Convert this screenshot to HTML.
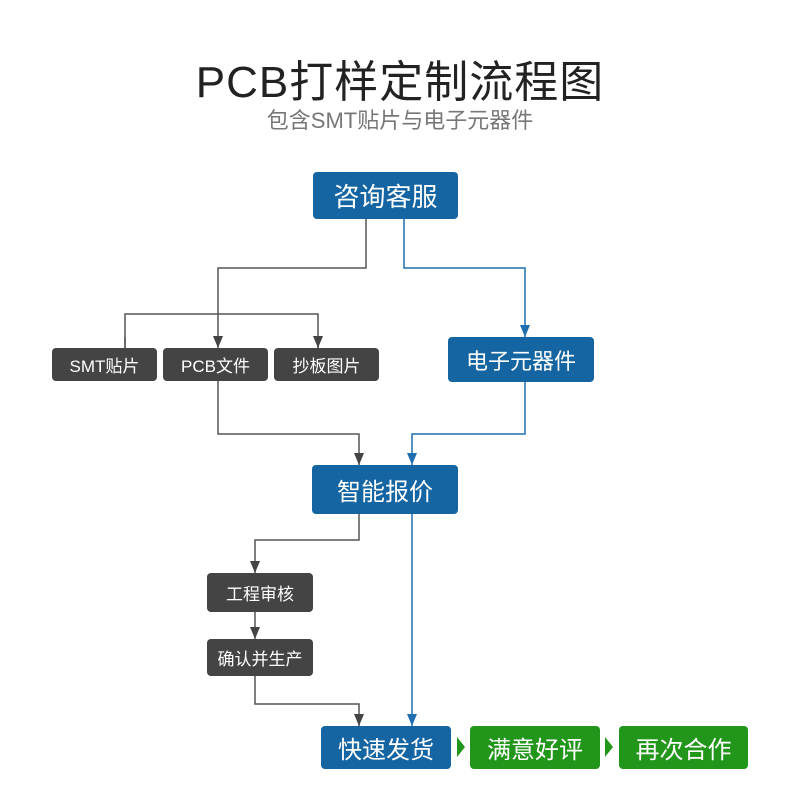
<!DOCTYPE html>
<html><head><meta charset="utf-8"><style>
body{margin:0;width:800px;height:800px;background:#fff;position:relative;overflow:hidden;font-family:"Liberation Sans","Noto Sans CJK SC",sans-serif}
.t{position:absolute;left:0;width:800px;text-align:center;white-space:nowrap}
.b{position:absolute;color:#fff;display:flex;align-items:center;justify-content:center;border-radius:4px;white-space:nowrap}
.bl{background:#1565a3}.g{background:#444}.gr{background:#22961a}
</style></head><body>
<div class="t" style="top:46px;font-size:44px;color:#222;letter-spacing:1px">PCB打样定制流程图</div>
<div class="t" style="top:103px;font-size:22px;color:#777">包含SMT贴片与电子元器件</div>
<svg width="800" height="800" style="position:absolute;left:0;top:0">
<defs>
<marker id="ag" markerWidth="12" markerHeight="10" refX="12" refY="5" orient="auto" markerUnits="userSpaceOnUse"><path d="M0,0L12,5L0,10Z" fill="#444"/></marker>
<marker id="ab" markerWidth="12" markerHeight="10" refX="12" refY="5" orient="auto" markerUnits="userSpaceOnUse"><path d="M0,0L12,5L0,10Z" fill="#1f6fb0"/></marker>
</defs>
<g fill="none" stroke-width="1.5">
<path d="M366 219V268H218V348" stroke="#555" marker-end="url(#ag)"/>
<path d="M125 348V314H318V348" stroke="#555"/>
<path d="M125 337V348M318 337V348" stroke="#555" marker-end="url(#ag)"/>
<path d="M404 219V268H525V337" stroke="#1f6fb0" marker-end="url(#ab)"/>
<path d="M218 381V434H359V465" stroke="#555" marker-end="url(#ag)"/>
<path d="M525 382V434H412V465" stroke="#1f6fb0" marker-end="url(#ab)"/>
<path d="M359 514V540H255V573" stroke="#555" marker-end="url(#ag)"/>
<path d="M255 612V639" stroke="#555" marker-end="url(#ag)"/>
<path d="M255 676V704H359V726" stroke="#555" marker-end="url(#ag)"/>
<path d="M412 514V726" stroke="#1f6fb0" marker-end="url(#ab)"/>
</g>
<path d="M457 737L465 747L457 757Z" fill="#22961a"/>
<path d="M605 737L613 747L605 757Z" fill="#22961a"/>
</svg>
<div class="b bl" style="left:313px;top:172px;width:145px;height:47px;font-size:26px">咨询客服</div>
<div class="b g" style="left:52px;top:348px;width:105px;height:33px;font-size:17px">SMT贴片</div>
<div class="b g" style="left:163px;top:348px;width:105px;height:33px;font-size:17px">PCB文件</div>
<div class="b g" style="left:274px;top:348px;width:105px;height:33px;font-size:17px">抄板图片</div>
<div class="b bl" style="left:448px;top:337px;width:146px;height:45px;font-size:22px">电子元器件</div>
<div class="b bl" style="left:312px;top:465px;width:146px;height:49px;font-size:24px">智能报价</div>
<div class="b g" style="left:207px;top:573px;width:106px;height:39px;font-size:17px">工程审核</div>
<div class="b g" style="left:207px;top:639px;width:106px;height:37px;font-size:17px">确认并生产</div>
<div class="b bl" style="left:321px;top:726px;width:130px;height:43px;font-size:24px">快速发货</div>
<div class="b gr" style="left:470px;top:726px;width:130px;height:43px;font-size:24px">满意好评</div>
<div class="b gr" style="left:619px;top:726px;width:129px;height:43px;font-size:24px">再次合作</div>
</body></html>
